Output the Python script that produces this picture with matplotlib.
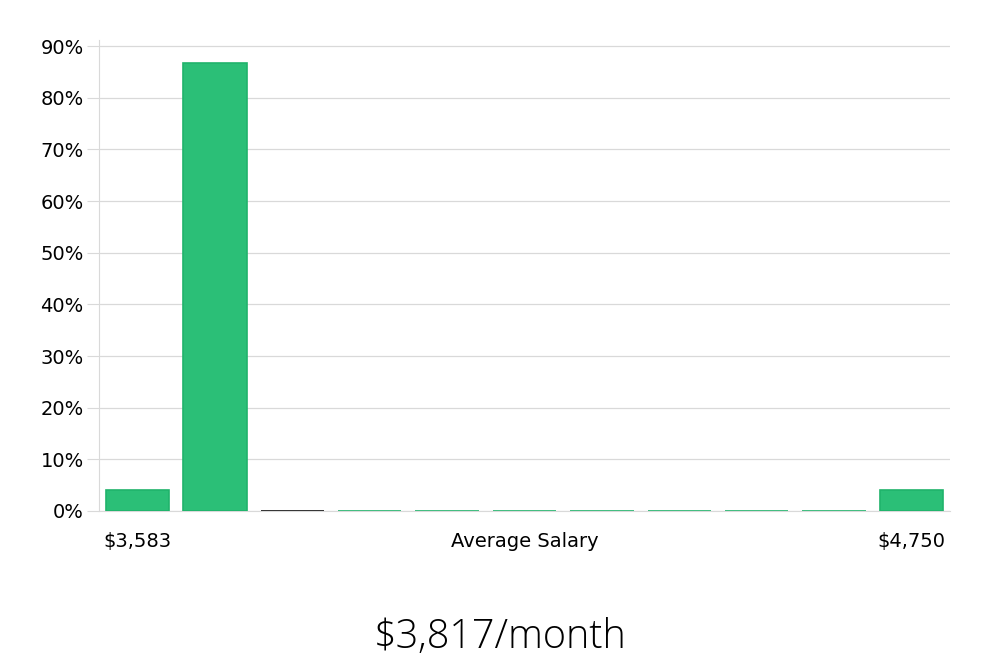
import matplotlib.pyplot as plt
from matplotlib.ticker import PercentFormatter

# bin shares (%), 11 salary bins from $3,583 to $4,750
shares = [4.0, 86.7, 0, 0, 0, 0, 0, 0, 0, 0, 4.0]
edge_colors = ['#20b36b', '#20b36b', '#111111'] + ['#20b36b'] * 8
tick_pos = [0, 5, 10]
tick_labels = ['$3,583', 'Average Salary', '$4,750']
title = '$3,817/month'

fig = plt.figure(figsize=(10, 6.6), dpi=100)
ax = fig.add_axes([0.099, 0.2258, 0.851, 0.7136])

ax.bar(range(len(shares)), shares, width=0.82, color='#2bbf77',
       edgecolor=edge_colors, linewidth=1.2, zorder=3)

ax.set_xlim(-0.5, 10.5)
ax.set_ylim(0, 91.2)
ax.set_yticks(range(0, 91, 10))
ax.yaxis.set_major_formatter(PercentFormatter(decimals=0))
ax.grid(axis='y', color='#d9d9d9', linewidth=0.9, zorder=0)
ax.tick_params(axis='y', length=9, color='#d9d9d9', labelsize=14, pad=2)

ax.set_xticks(tick_pos)
ax.set_xticklabels(tick_labels, fontsize=14)
ax.tick_params(axis='x', length=0, pad=15)

for s in ['top', 'right']:
    ax.spines[s].set_visible(False)
for s in ['left', 'bottom']:
    ax.spines[s].set_color('#d9d9d9')

fig.text(0.5, 0.018, title, ha='center', va='baseline', fontsize=28.5,
         family='Open Sans', fontweight='light', color='black')

fig.savefig('out.png')
